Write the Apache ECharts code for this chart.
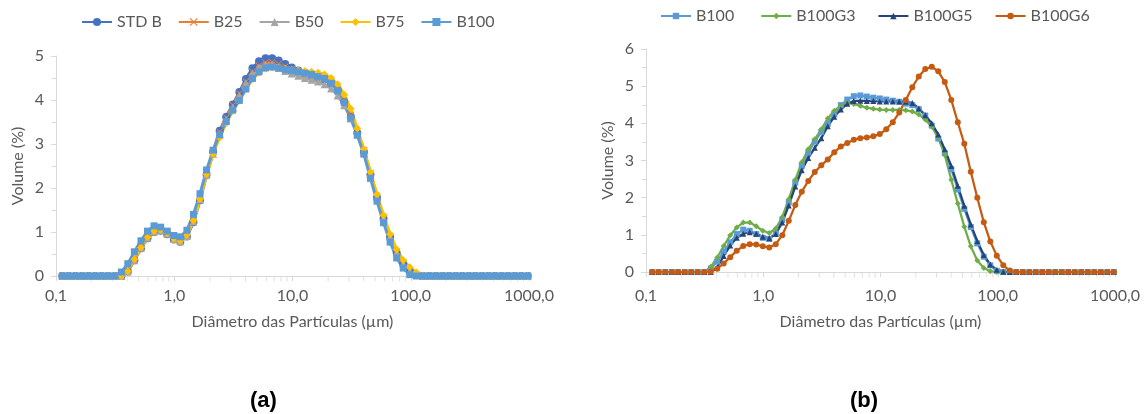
<!DOCTYPE html>
<html>
<head>
<meta charset="utf-8">
<title>Distribuição granulométrica</title>
<script src="https://cdn.jsdelivr.net/npm/echarts@6/dist/echarts.min.js"></script>
<style>
  html, body { margin: 0; padding: 0; background: #fff; }
  #chart { width: 1145px; height: 414px; }
</style>
</head>
<body>
<div id="chart"></div>
<script>
// size classes (µm)
const sizes = [
  0.113, 0.128, 0.146, 0.166, 0.188, 0.214, 0.243, 0.276, 0.314, 0.357,
  0.405, 0.460, 0.523, 0.594, 0.675, 0.767, 0.872, 0.991, 1.125, 1.279,
  1.453, 1.651, 1.876, 2.131, 2.421, 2.751, 3.126, 3.551, 4.035, 4.585,
  5.209, 5.918, 6.724, 7.640, 8.680, 9.859, 11.20, 12.73, 14.46, 16.43,
  18.67, 21.21, 24.09, 27.37, 31.10, 35.34, 40.15, 45.62, 51.83, 58.89,
  66.91, 76.02, 86.37, 98.12, 111.5, 126.7, 143.9, 163.5, 185.8, 211.1,
  239.8, 272.4, 309.5, 351.7, 399.6, 454.0, 515.8, 586.0, 665.8, 756.5,
  859.4, 976.5
];
const xTickLabels = ['0,1', '1,0', '10,0', '100,0', '1000,0'];
const xMinorTicks = [
  0.2, 0.3, 0.4, 0.5, 0.6, 0.7, 0.8, 0.9,
  2, 3, 4, 5, 6, 7, 8, 9,
  20, 30, 40, 50, 60, 70, 80, 90,
  200, 300, 400, 500, 600, 700, 800, 900
];

// (a)
const stdB = [
  0, 0, 0, 0, 0, 0, 0, 0, 0, 0,
  0.10, 0.36, 0.63, 0.86, 1.00, 1.03, 0.95, 0.83, 0.78, 0.90,
  1.22, 1.72, 2.30, 2.82, 3.30, 3.62, 3.90, 4.18, 4.48, 4.72,
  4.88, 4.95, 4.95, 4.90, 4.82, 4.74, 4.67, 4.62, 4.57, 4.52,
  4.47, 4.38, 4.22, 3.96, 3.62, 3.25, 2.82, 2.30, 1.78, 1.30,
  0.88, 0.52, 0.27, 0.10, 0.02, 0, 0, 0, 0, 0,
  0, 0, 0, 0, 0, 0, 0, 0, 0, 0, 0, 0
];
const b25 = [
  0, 0, 0, 0, 0, 0, 0, 0, 0, 0,
  0.11, 0.37, 0.64, 0.87, 1.01, 1.04, 0.96, 0.84, 0.79, 0.92,
  1.25, 1.76, 2.33, 2.82, 3.28, 3.60, 3.88, 4.15, 4.42, 4.64,
  4.78, 4.85, 4.86, 4.82, 4.76, 4.70, 4.65, 4.60, 4.56, 4.52,
  4.47, 4.39, 4.24, 3.99, 3.66, 3.29, 2.86, 2.34, 1.82, 1.34,
  0.91, 0.55, 0.29, 0.12, 0.03, 0, 0, 0, 0, 0,
  0, 0, 0, 0, 0, 0, 0, 0, 0, 0, 0, 0
];
const b50 = [
  0, 0, 0, 0, 0, 0, 0, 0, 0, 0,
  0.10, 0.36, 0.64, 0.87, 1.01, 1.04, 0.96, 0.84, 0.79, 0.91,
  1.24, 1.74, 2.30, 2.78, 3.22, 3.55, 3.83, 4.10, 4.38, 4.60,
  4.74, 4.80, 4.80, 4.74, 4.66, 4.60, 4.55, 4.50, 4.46, 4.42,
  4.36, 4.26, 4.10, 3.88, 3.58, 3.22, 2.80, 2.30, 1.80, 1.32,
  0.90, 0.54, 0.28, 0.11, 0.02, 0, 0, 0, 0, 0,
  0, 0, 0, 0, 0, 0, 0, 0, 0, 0, 0, 0
];
const b75 = [
  0, 0, 0, 0, 0, 0, 0, 0, 0, 0,
  0.11, 0.38, 0.65, 0.88, 1.02, 1.05, 0.97, 0.85, 0.80, 0.93,
  1.26, 1.75, 2.31, 2.78, 3.15, 3.48, 3.75, 3.99, 4.25, 4.48,
  4.62, 4.71, 4.74, 4.73, 4.71, 4.69, 4.67, 4.66, 4.64, 4.62,
  4.58, 4.50, 4.36, 4.12, 3.80, 3.35, 2.88, 2.36, 1.85, 1.38,
  0.95, 0.60, 0.36, 0.20, 0.08, 0.01, 0, 0, 0, 0,
  0, 0, 0, 0, 0, 0, 0, 0, 0, 0, 0, 0
];
// B100 appears in both panels
const b100 = [
  0, 0, 0, 0, 0, 0, 0, 0, 0, 0.09,
  0.28, 0.55, 0.80, 1.02, 1.14, 1.11, 1.02, 0.92, 0.89, 1.04,
  1.40, 1.87, 2.41, 2.86, 3.21, 3.51, 3.77, 3.99, 4.25, 4.49,
  4.64, 4.73, 4.75, 4.72, 4.69, 4.67, 4.64, 4.61, 4.58, 4.53,
  4.49, 4.38, 4.21, 3.94, 3.59, 3.20, 2.77, 2.22, 1.70, 1.21,
  0.77, 0.41, 0.18, 0.03, 0, 0, 0, 0, 0, 0,
  0, 0, 0, 0, 0, 0, 0, 0, 0, 0, 0, 0
];

// (b)
const b100g3 = [
  0, 0, 0, 0, 0, 0, 0, 0, 0, 0.14,
  0.39, 0.70, 0.99, 1.20, 1.33, 1.33, 1.23, 1.11, 1.05, 1.17,
  1.48, 1.96, 2.48, 2.95, 3.30, 3.57, 3.84, 4.13, 4.34, 4.47,
  4.54, 4.52, 4.47, 4.42, 4.39, 4.37, 4.36, 4.36, 4.36, 4.35,
  4.32, 4.24, 4.10, 3.91, 3.63, 3.15, 2.48, 1.84, 1.22, 0.69,
  0.31, 0.11, 0.02, 0, 0, 0, 0, 0, 0, 0,
  0, 0, 0, 0, 0, 0, 0, 0, 0, 0, 0, 0
];
const b100g5 = [
  0, 0, 0, 0, 0, 0, 0, 0, 0, 0,
  0.13, 0.43, 0.71, 0.92, 1.03, 1.07, 1.03, 0.95, 0.91, 1.02,
  1.33, 1.79, 2.30, 2.74, 3.07, 3.34, 3.60, 3.92, 4.18, 4.37,
  4.53, 4.60, 4.61, 4.60, 4.60, 4.59, 4.59, 4.59, 4.59, 4.58,
  4.55, 4.40, 4.22, 4.00, 3.70, 3.30, 2.85, 2.32, 1.78, 1.28,
  0.83, 0.46, 0.20, 0.06, 0.01, 0, 0, 0, 0, 0,
  0, 0, 0, 0, 0, 0, 0, 0, 0, 0, 0, 0
];
const b100g6 = [
  0, 0, 0, 0, 0, 0, 0, 0, 0, 0.01,
  0.09, 0.23, 0.40, 0.57, 0.70, 0.75, 0.74, 0.69, 0.66, 0.75,
  0.99, 1.38, 1.80, 2.16, 2.45, 2.69, 2.87, 3.03, 3.22, 3.38,
  3.47, 3.56, 3.60, 3.62, 3.65, 3.71, 3.84, 4.03, 4.29, 4.63,
  4.97, 5.26, 5.46, 5.52, 5.40, 5.11, 4.63, 4.03, 3.45, 2.70,
  2.00, 1.34, 0.82, 0.44, 0.18, 0.04, 0, 0, 0, 0,
  0, 0, 0, 0, 0, 0, 0, 0, 0, 0, 0, 0
];

const FONT = 'Lato';
const TEXT = '#595959';
const AXIS = '#d9d9d9';
const CROSS = 'path://M0,1L1,0L5,4L9,0L10,1L6,5L10,9L9,10L5,6L1,10L0,9L4,5Z';

const chart = echarts.init(document.getElementById('chart'), null, { renderer: 'canvas' });

function pairs(values) {
  return sizes.map((s, i) => [s, values[i]]);
}

function lineSeries(name, values, color, symbol, symbolSize, width, idx) {
  return {
    name: name,
    type: 'line',
    xAxisIndex: idx,
    yAxisIndex: idx,
    data: pairs(values),
    symbol: symbol,
    symbolSize: symbolSize,
    showAllSymbol: true,
    lineStyle: { color: color, width: width },
    itemStyle: { color: color },
    emphasis: { disabled: true },
    animation: false,
  };
}

function minorTickSeries(idx) {
  return {
    type: 'scatter',
    xAxisIndex: idx,
    yAxisIndex: idx,
    data: xMinorTicks.map((v) => [v, 0]),
    symbol: 'rect',
    symbolSize: [1, 5],
    symbolOffset: [0, 3],
    itemStyle: { color: AXIS },
    silent: true,
    clip: false,
    z: 0,
    animation: false,
  };
}

function xAxis(idx, labelMargin, nameGap) {
  return {
    type: 'log',
    logBase: 10,
    gridIndex: idx,
    min: 0.1,
    max: 1000,
    name: 'Diâmetro das Partículas (µm)',
    nameLocation: 'middle',
    nameGap: nameGap,
    nameTextStyle: { fontFamily: FONT, fontSize: 16, color: TEXT },
    axisLine: { show: true, lineStyle: { color: AXIS, width: 1 } },
    axisTick: { show: true, length: 5, lineStyle: { color: AXIS } },
    splitLine: { show: false },
    axisLabel: {
      margin: labelMargin,
      fontFamily: FONT,
      fontSize: 16,
      color: TEXT,
      formatter: (v) => xTickLabels[Math.round(Math.log10(v)) + 1],
    },
  };
}

function yAxis(idx, max) {
  return {
    type: 'value',
    gridIndex: idx,
    min: 0,
    max: max,
    interval: 1,
    name: 'Volume (%)',
    nameLocation: 'middle',
    nameRotate: 90,
    nameGap: 30,
    nameTextStyle: { fontFamily: FONT, fontSize: 16, color: TEXT },
    axisLine: { show: true, lineStyle: { color: AXIS, width: 1 } },
    axisTick: { show: true, length: 5, lineStyle: { color: AXIS } },
    minorTick: { show: true, splitNumber: 2, length: 4, lineStyle: { color: AXIS } },
    splitLine: { show: false },
    axisLabel: { margin: 12, fontFamily: FONT, fontSize: 16, color: TEXT },
  };
}

const legendText = { fontFamily: FONT, fontSize: 16, color: TEXT };
const panelTitle = { fontFamily: 'Liberation Sans', fontWeight: 'bold', fontSize: 22, color: '#000' };

chart.setOption({
  backgroundColor: '#fff',
  animation: false,
  title: [
    { text: '(a)', left: 245, top: 385, textStyle: panelTitle },
    { text: '(b)', left: 845, top: 385, textStyle: panelTitle },
  ],
  legend: [
    {
      data: ['STD B', 'B25', 'B50', 'B75', 'B100'],
      left: 76, top: 9, itemWidth: 30, itemHeight: 10, itemGap: 16,
      textStyle: legendText,
    },
    {
      data: ['B100 ', 'B100G3', 'B100G5', 'B100G6'],
      left: 655, top: 3, itemWidth: 30, itemHeight: 8, itemGap: 22,
      textStyle: legendText,
    },
  ],
  grid: [
    { left: 56, right: 616, top: 56, bottom: 138 },
    { left: 646, right: 30, top: 49, bottom: 142 },
  ],
  xAxis: [xAxis(0, 12, 38), xAxis(1, 16, 42)],
  yAxis: [yAxis(0, 5), yAxis(1, 6)],
  series: [
    minorTickSeries(0),
    minorTickSeries(1),
    lineSeries('STD B', stdB, '#4472C4', 'circle', 8, 3, 0),
    lineSeries('B25', b25, '#ED7D31', CROSS, 7, 3, 0),
    lineSeries('B50', b50, '#A5A5A5', 'triangle', 8, 3, 0),
    lineSeries('B75', b75, '#FFC000', 'diamond', 8, 3, 0),
    lineSeries('B100', b100, '#5B9BD5', 'rect', 7, 3, 0),
    lineSeries('B100 ', b100, '#5B9BD5', 'rect', 6, 2.25, 1),
    lineSeries('B100G3', b100g3, '#70AD47', 'diamond', 6, 2.25, 1),
    lineSeries('B100G5', b100g5, '#264478', 'triangle', 6, 2.25, 1),
    lineSeries('B100G6', b100g6, '#C55A11', 'circle', 6, 2.25, 1),
  ],
});
</script>
</body>
</html>
